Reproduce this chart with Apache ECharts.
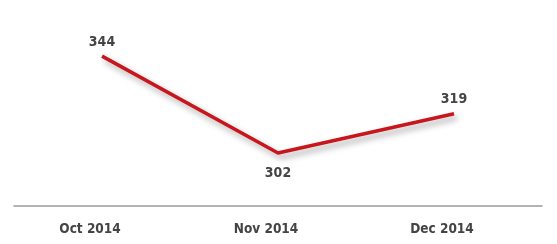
<!DOCTYPE html>
<html>
<head>
<meta charset="utf-8">
<script src="https://cdn.jsdelivr.net/npm/echarts@6/dist/echarts.min.js"></script>
<style>
  html, body { margin: 0; padding: 0; background: #fff; }
  #main { width: 557px; height: 244px; }
</style>
</head>
<body>
<div id="main"></div>
<script>
var months = ['Oct 2014', 'Nov 2014', 'Dec 2014'];
var values = [344, 302, 319];
var labelPos = ['top', 'bottom', 'top'];

var chart = echarts.init(document.getElementById('main'));
var font = '"DejaVu Sans Condensed", "Liberation Sans Narrow", sans-serif';

var option = {
  animation: false,
  grid: {
    left: 14,
    right: 15,
    top: 10,
    bottom: 38
  },
  xAxis: {
    type: 'category',
    data: months,
    boundaryGap: true,
    axisTick: { show: false },
    axisLine: {
      lineStyle: { color: '#9a9a9a', width: 1.5 }
    },
    axisLabel: {
      color: '#444',
      fontFamily: font,
      fontWeight: 'bold',
      fontSize: 13.5,
      margin: 16,
      padding: [0, 24, 0, 0]
    }
  },
  yAxis: {
    type: 'value',
    min: 279,
    max: 364,
    show: false,
    splitLine: { show: false }
  },
  series: [{
    type: 'line',
    data: values.map(function (v, i) {
      return {
        value: v,
        label: {
          position: labelPos[i],
          distance: labelPos[i] === 'bottom' ? 12 : 6
        }
      };
    }),
    symbol: 'circle',
    symbolSize: 2,
    showSymbol: true,
    itemStyle: { color: 'rgba(0,0,0,0)', borderWidth: 0 },
    lineStyle: {
      color: '#c8161d',
      width: 3.5,
      shadowColor: 'rgba(0,0,0,0.35)',
      shadowBlur: 6,
      shadowOffsetX: 3,
      shadowOffsetY: 4
    },
    label: {
      show: true,
      color: '#444',
      fontFamily: font,
      fontWeight: 'bold',
      fontSize: 14
    }
  }]
};
chart.setOption(option);
</script>
</body>
</html>
